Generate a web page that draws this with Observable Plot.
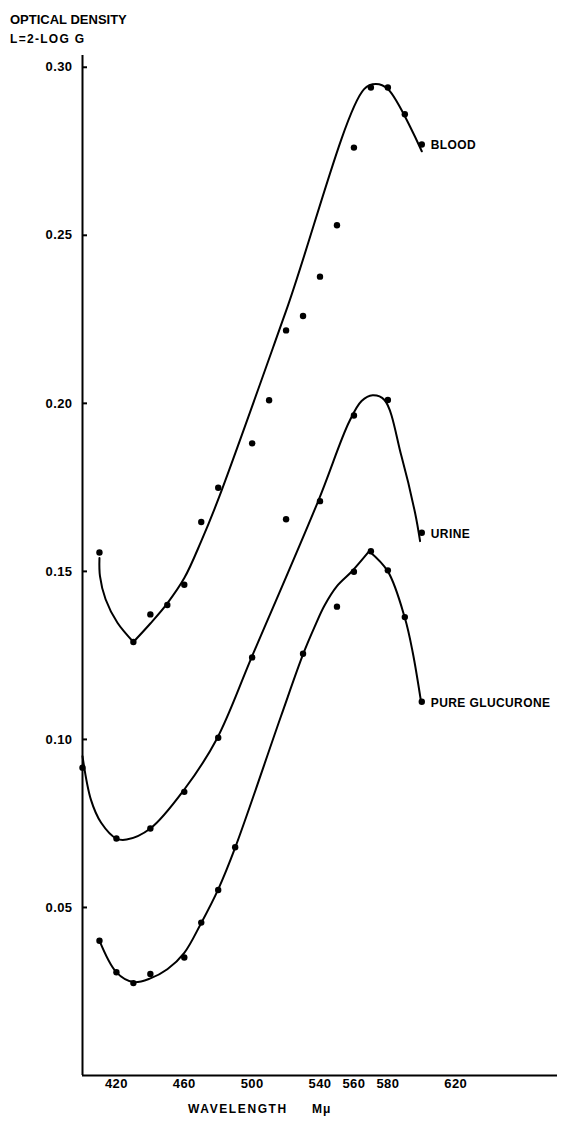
<!DOCTYPE html>
<html><head><meta charset="utf-8">
<script src="https://cdn.jsdelivr.net/npm/d3@7"></script>
<script src="https://cdn.jsdelivr.net/npm/@observablehq/plot@0.6"></script>
<style>
body{margin:0;background:#fff;font-family:"Liberation Sans",Arial,sans-serif;font-weight:bold;color:#000;}
#wrap{width:565px;overflow:hidden;}
#title{position:relative;height:50px;}
#title div{position:absolute;left:10px;line-height:14px;white-space:nowrap;}
#chart svg text{letter-spacing:0.4px;}
#cap{position:relative;height:24px;font-size:12px;}
#cap span{position:absolute;top:5px;line-height:14px;white-space:nowrap;}
</style></head><body>
<div id="wrap">
  <div id="title">
    <div style="top:13px;font-size:13px;">OPTICAL DENSITY</div>
    <div style="top:32px;font-size:12px;letter-spacing:1.3px;">L=2-LOG G</div>
  </div>
  <div id="chart"></div>
  <div id="cap"><span style="left:188px;letter-spacing:1.6px;">WAVELENGTH</span><span style="left:312px;letter-spacing:1px;">Mμ</span></div>
</div>
<script>
// Tick values
const xTicks = [420, 460, 500, 540, 560, 580, 620];
const yTicks = [0.05, 0.10, 0.15, 0.20, 0.25, 0.30];

// Measured points
const bloodWl = [410, 430, 440, 450, 460, 470, 480, 500, 510, 520, 530, 540, 550, 560, 570, 580, 590, 600];
const bloodOD = [0.1556, 0.129, 0.1372, 0.140, 0.146, 0.1647, 0.1749, 0.1881, 0.2009, 0.2217, 0.226, 0.2377, 0.253, 0.2761, 0.294, 0.294, 0.286, 0.277];

const urineWl = [400, 420, 440, 460, 480, 500, 520, 540, 560, 580, 600];
const urineOD = [0.0916, 0.0705, 0.0735, 0.0844, 0.1005, 0.1244, 0.1655, 0.1709, 0.1964, 0.201, 0.1615];

const glucWl = [410, 420, 430, 440, 460, 470, 480, 490, 530, 550, 560, 570, 580, 590, 600];
const glucOD = [0.0401, 0.0307, 0.0275, 0.0302, 0.0351, 0.0455, 0.0552, 0.0679, 0.1255, 0.1395, 0.1499, 0.156, 0.1503, 0.1364, 0.1112];

// Hand-drawn fitted curves
const bloodCurveAWl = [410, 410.3, 413.6, 420.6, 430];
const bloodCurveAOD = [0.154, 0.1486, 0.1417, 0.1347, 0.129];
const bloodCurveBWl = [430, 440, 450, 460, 470, 480, 520, 566, 573, 580, 600];
const bloodCurveBOD = [0.129, 0.1345, 0.1405, 0.148, 0.159, 0.1714, 0.2275, 0.2935, 0.295, 0.2935, 0.275];

const urineCurveWl = [400, 405, 411, 420, 426, 440, 460, 479, 500, 539, 557, 564.5, 571, 578, 588, 596, 599];
const urineCurveOD = [0.095, 0.082, 0.0752, 0.0705, 0.0702, 0.0735, 0.0851, 0.100, 0.1248, 0.171, 0.1943, 0.2007, 0.2024, 0.201, 0.1843, 0.1675, 0.159];

const glucCurveAWl = [410, 420, 430, 440, 450, 460, 470, 480, 490, 517, 530, 537, 542.5, 550, 559, 569];
const glucCurveAOD = [0.0401, 0.0307, 0.0278, 0.0289, 0.0316, 0.0365, 0.0454, 0.0554, 0.0678, 0.1069, 0.1253, 0.1337, 0.1397, 0.1456, 0.1501, 0.156];
const glucCurveBWl = [569, 580, 590, 594.7, 599.6];
const glucCurveBOD = [0.156, 0.150, 0.1362, 0.1258, 0.1111];

const seriesNames = ["BLOOD", "URINE", "PURE GLUCURONE"];

// Build tables
const rows = (wl, od, key) => wl.map((w, i) => ({wl: w, od: od[i], key}));
const points = [
  ...rows(bloodWl, bloodOD, "BLOOD"),
  ...rows(urineWl, urineOD, "URINE"),
  ...rows(glucWl, glucOD, "PURE GLUCURONE")
];
const curves = [
  ...rows(bloodCurveAWl, bloodCurveAOD, "bA"),
  ...rows(bloodCurveBWl, bloodCurveBOD, "bB"),
  ...rows(urineCurveWl, urineCurveOD, "u"),
  ...rows(glucCurveAWl, glucCurveAOD, "gA"),
  ...rows(glucCurveBWl, glucCurveBOD, "gB")
];
const lastOf = (wl, od, name) => ({wl: wl[wl.length - 1], od: od[od.length - 1], name});
const labels = [
  lastOf(bloodWl, bloodOD, seriesNames[0]),
  lastOf(urineWl, urineOD, seriesNames[1]),
  lastOf(glucWl, glucOD, seriesNames[2])
];

const chart = Plot.plot({
  width: 565,
  height: 1047,
  marginLeft: 82,
  marginRight: 8,
  marginTop: 5,
  marginBottom: 22,
  x: {domain: [400, 680]},
  y: {domain: [0, 0.3035]},
  style: {fontFamily: "Liberation Sans, Arial, sans-serif", fontSize: "13px", fontWeight: "bold", background: "white", color: "black", overflow: "visible"},
  marks: [
    Plot.ruleX([400], {strokeWidth: 2}),
    Plot.ruleY([0], {strokeWidth: 2}),
    Plot.axisY({ticks: yTicks, tickSize: 0, tickPadding: 10, tickFormat: d3.format(".2f"), label: null}),
    Plot.axisY({ticks: yTicks, tickSize: 5, dx: 5, strokeWidth: 2, tickFormat: () => "", label: null}),
    Plot.axisX({ticks: xTicks, tickSize: 0, tickPadding: 3, tickFormat: d3.format("d"), label: null}),
    Plot.line(curves, {x: "wl", y: "od", z: "key", curve: "catmull-rom", stroke: "black", strokeWidth: 2}),
    Plot.dot(points, {x: "wl", y: "od", r: 3.2, fill: "black"}),
    Plot.text(labels, {x: "wl", y: "od", text: "name", textAnchor: "start", dx: 9, dy: 1, fontSize: 12, fill: "black"})
  ]
});
document.getElementById("chart").appendChild(chart);
</script>
</body></html>
